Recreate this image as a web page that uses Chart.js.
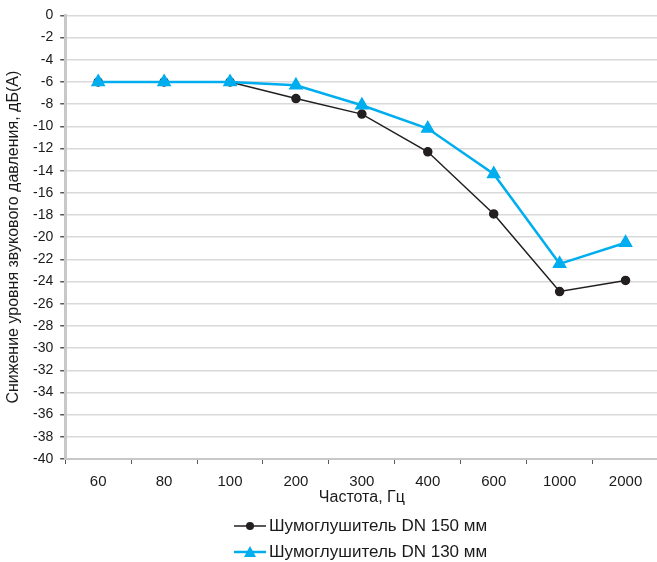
<!DOCTYPE html>
<html>
<head>
<meta charset="utf-8">
<script src="https://cdn.jsdelivr.net/npm/chart.js@4"></script>
<style>
  body { margin: 0; background: #fff; overflow: hidden; }
  #wrap { position: relative; width: 657px; height: 562px; overflow: hidden; }
  #legend { position: absolute; left: 234px; top: 513px; font-family: "Liberation Sans", Arial, sans-serif; font-size: 17px; color: #1a1a1a; }
  #legend div { height: 26px; display: flex; align-items: center; }
  #legend canvas { margin-right: 3px; }
</style>
</head>
<body>
<div id="wrap">
  <canvas id="lineCanvas" width="667" height="562"></canvas>
  <div id="legend"></div>
</div>
<script>
///// données
let frequences = ["60", "80", "100", "200", "300", "400", "600", "1000", "2000"];
let dn150 = [-6, -6, -6, -7.5, -8.9, -12.3, -17.9, -24.9, -23.9];
let dn130 = [-6, -6, -6, -6.3, -8.1, -10.2, -14.3, -22.4, -20.5];
let nomSerie1 = "Шумоглушитель DN 150 мм";
let nomSerie2 = "Шумоглушитель DN 130 мм";

let police = "'Liberation Sans', Arial, sans-serif";

///// création du graphique
let graph = document.getElementById("lineCanvas");
let lineChart = new Chart(graph, {
    type: "line",
    data: {
        labels: frequences,
        datasets: [{
            label: nomSerie1,
            data: dn150,
            borderColor: "#231f20",
            backgroundColor: "#231f20",
            borderWidth: 1.5,
            pointStyle: "circle",
            pointRadius: 4,
            pointHoverRadius: 4,
            order: 2
        }, {
            label: nomSerie2,
            data: dn130,
            borderColor: "#00aeef",
            backgroundColor: "#00aeef",
            borderWidth: 2.5,
            pointStyle: "triangle",
            pointRadius: 6,
            pointHoverRadius: 6,
            order: 1
        }]
    },
    options: {
        responsive: false,
        animation: false,
        layout: { padding: { left: 6, right: 0, top: 7, bottom: 56 } },
        plugins: {
            legend: { display: false },
            tooltip: { enabled: false }
        },
        scales: {
            x: {
                offset: true,
                grid: {
                    offset: true,
                    drawOnChartArea: false,
                    drawTicks: true,
                    tickLength: 5,
                    tickColor: "#595959"
                },
                border: { color: "#c8c8c8", width: 2 },
                ticks: {
                    color: "#1a1a1a",
                    padding: 10,
                    font: { size: 15, family: police, lineHeight: 1 }
                },
                title: {
                    display: true,
                    text: "Частота, Гц",
                    color: "#1a1a1a",
                    padding: { top: -9, bottom: 0 },
                    font: { size: 16, family: police, lineHeight: 1 }
                }
            },
            y: {
                min: -40,
                max: 0,
                ticks: {
                    stepSize: 2,
                    color: "#1a1a1a",
                    padding: 7,
                    font: { size: 14, family: police }
                },
                grid: {
                    color: "#d9d9d9",
                    lineWidth: 1.5,
                    tickLength: 5,
                    tickColor: "#595959"
                },
                border: { color: "#c8c8c8", width: 3 },
                title: {
                    display: true,
                    text: "Снижение уровня звукового давления, дБ(А)",
                    color: "#1a1a1a",
                    padding: { top: 0, bottom: 4 },
                    font: { size: 16, family: police, lineHeight: 1 }
                }
            }
        }
    }
});

///// légende
let legende = document.getElementById("legend");
[[nomSerie1, "#231f20", "circle", 1.5], [nomSerie2, "#00aeef", "triangle", 2.5]].forEach(function (s) {
    let ligne = document.createElement("div");
    let c = document.createElement("canvas");
    c.width = 32; c.height = 14;
    let ctx = c.getContext("2d");
    ctx.strokeStyle = s[1];
    ctx.fillStyle = s[1];
    ctx.lineWidth = s[3];
    ctx.beginPath(); ctx.moveTo(0, 7); ctx.lineTo(32, 7); ctx.stroke();
    ctx.beginPath();
    if (s[2] == "circle") {
        ctx.arc(16, 7, 4, 0, Math.PI * 2);
    } else {
        ctx.moveTo(16, 1); ctx.lineTo(22, 12); ctx.lineTo(10, 12); ctx.closePath();
    }
    ctx.fill();
    let t = document.createElement("span");
    t.innerText = s[0];
    ligne.appendChild(c);
    ligne.appendChild(t);
    legende.appendChild(ligne);
});
</script>
</body>
</html>
